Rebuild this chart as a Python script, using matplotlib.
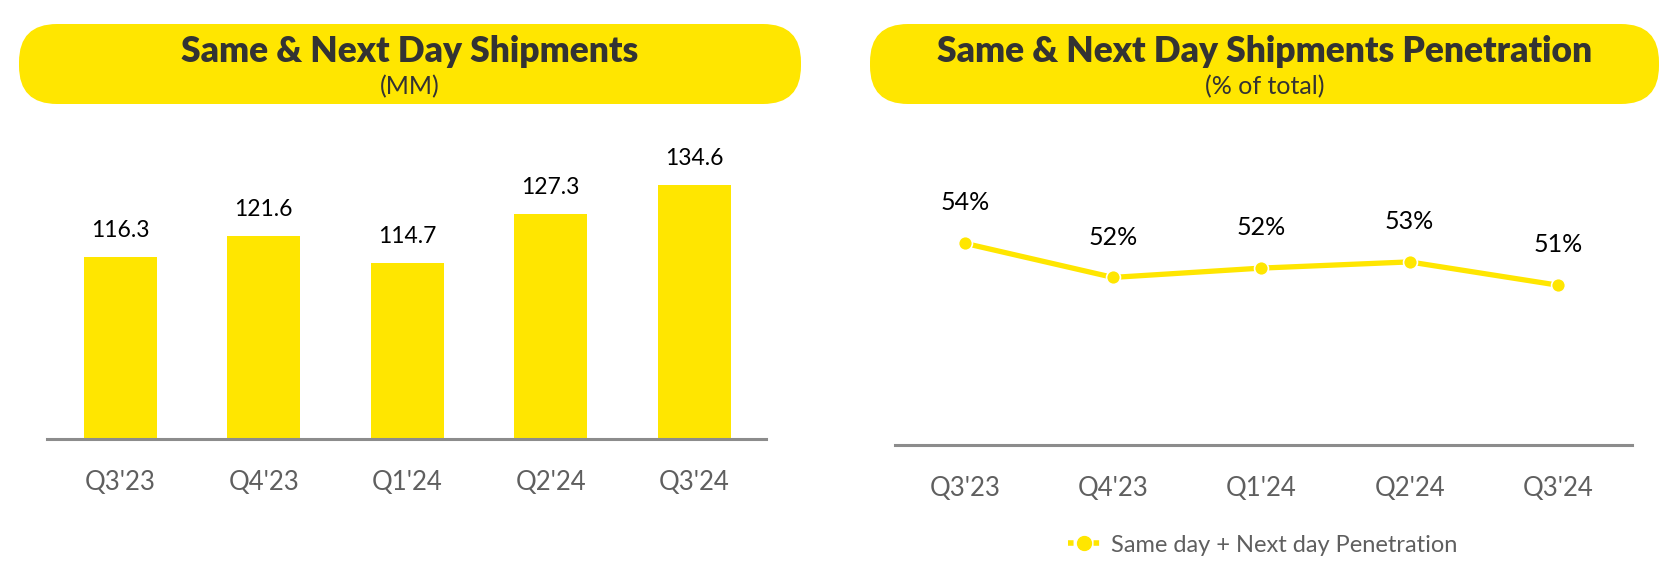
import matplotlib
matplotlib.use("Agg")
import matplotlib.pyplot as plt
from matplotlib.patches import FancyBboxPatch
from matplotlib.lines import Line2D

plt.rcParams['font.family'] = ['Lato', 'DejaVu Sans']

quarters = ["Q3'23", "Q4'23", "Q1'24", "Q2'24", "Q3'24"]
shipments = [116.3, 121.6, 114.7, 127.3, 134.6]          # MM
penetration = [53.8, 51.6, 52.2, 52.6, 51.1]             # % of total
penetration_labels = ["54%", "52%", "52%", "53%", "51%"]

YELLOW = '#FFE600'
DARK = '#333333'
GREY_TXT = '#5f5f5f'
AXIS = '#8c8c8c'

fig = plt.figure(figsize=(16.8, 5.84), dpi=100)

# background layer in pixel coords for the header pills
bg = fig.add_axes([0, 0, 1, 1])
bg.set_xlim(0, 1680)
bg.set_ylim(584, 0)
bg.axis('off')
for x0, x1, title, sub in [(19, 801, "Same & Next Day Shipments", "(MM)"),
                           (870, 1659, "Same & Next Day Shipments Penetration", "(% of total)")]:
    pill = FancyBboxPatch((x0, 24), x1 - x0, 80,
                          boxstyle="round,pad=0,rounding_size=38",
                          fc=YELLOW, ec='none')
    bg.add_patch(pill)
    cx = (x0 + x1) / 2
    bg.text(cx, 51, title, ha='center', va='center', fontsize=25.5,
            fontweight='heavy', color=DARK)
    bg.text(cx, 87, sub, ha='center', va='center', fontsize=18, color=DARK)

# left: bar chart
ax1 = fig.add_axes([47 / 1680, 145 / 584, 719 / 1680, 309 / 584])
x = range(len(quarters))
ax1.bar(x, shipments, width=0.51, color=YELLOW)
ax1.set_ylim(70, 148.6)
ax1.set_xlim(-0.51, 4.5)
for i, v in enumerate(shipments):
    ax1.annotate(f"{v:.1f}", (i, v), xytext=(0, 19), textcoords='offset points',
                 ha='center', va='center', fontsize=16.5, color='black')
ax1.set_xticks(list(x))
ax1.set_xticklabels(quarters, fontsize=18.5, color=GREY_TXT)
ax1.tick_params(axis='x', length=0, pad=22)
ax1.set_yticks([])
for s in ['top', 'right', 'left']:
    ax1.spines[s].set_visible(False)
ax1.spines['bottom'].set_color(AXIS)
ax1.spines['bottom'].set_linewidth(2.2)
ax1.patch.set_alpha(0)

# right: line chart
ax2 = fig.add_axes([895 / 1680, 139 / 584, 737 / 1680, 315 / 584])
ax2.plot(list(x), penetration, color=YELLOW, lw=3.8, marker='o', markersize=10,
         markeredgecolor='white', markeredgewidth=1.2, solid_capstyle='butt')
ax2.set_ylim(40.8, 61.1)
ax2.set_xlim(-0.47, 4.5)
for i, (v, lab) in enumerate(zip(penetration, penetration_labels)):
    ax2.annotate(lab, (i, v), xytext=(0, 29), textcoords='offset points',
                 ha='center', va='center', fontsize=18, color='black')
ax2.set_xticks(list(x))
ax2.set_xticklabels(quarters, fontsize=18.5, color=GREY_TXT)
ax2.tick_params(axis='x', length=0, pad=22)
ax2.set_yticks([])
for s in ['top', 'right', 'left']:
    ax2.spines[s].set_visible(False)
ax2.spines['bottom'].set_color(AXIS)
ax2.spines['bottom'].set_linewidth(2.2)
ax2.patch.set_alpha(0)

handle = Line2D([], [], color=YELLOW, lw=4, ls=(0, (1, 0.8, 2, 0.8)),
                dash_capstyle='butt', marker='o', markersize=10)
fig.legend([handle], ["Same day + Next day Penetration"], loc='center left',
           bbox_to_anchor=(1059 / 1680, 1 - 545 / 584), frameon=False, fontsize=17,
           labelcolor=GREY_TXT, handlelength=1.32, handletextpad=0.49,
           borderaxespad=0)

fig.savefig('out.png', dpi=100)
